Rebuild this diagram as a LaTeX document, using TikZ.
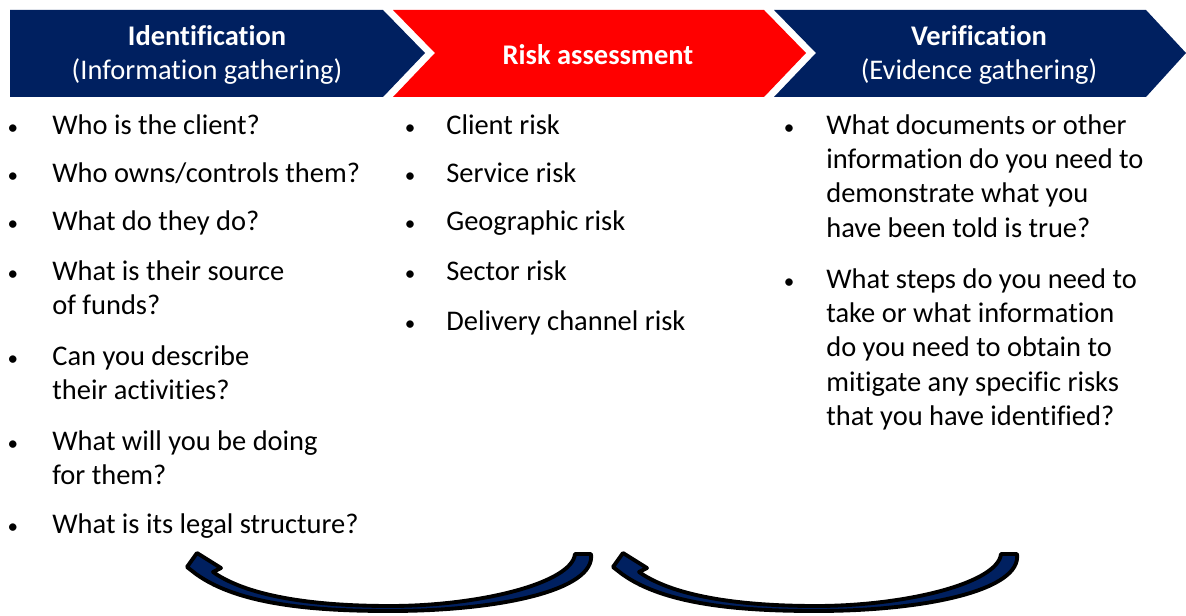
\documentclass[tikz,border=0pt]{standalone}
\usepackage{fontspec}
\setmainfont{Carlito}[Ligatures=NoCommon]
\usetikzlibrary{positioning}
\definecolor{navy}{HTML}{002060}
\definecolor{riskred}{HTML}{FF0000}

\begin{document}
\begin{tikzpicture}[x=0.02cm,y=-0.02cm]
\tikzset{txt/.style={font=\fontsize{16.2}{19.6}\selectfont},
  head/.style={txt,text=white,align=center,inner sep=0pt},
  item/.style={txt,anchor=base west,inner sep=0pt},
  dot/.style={font=\fontsize{12}{14}\selectfont,anchor=base,inner sep=0pt},
  turn/.style={fill=navy,draw=black,line width=2.2pt,line join=round}}
\newcommand{\lines}[1]{\begin{tabular}[t]{@{}l@{}}#1\end{tabular}}
\useasboundingbox (0,0) rectangle (1186,615);

\fill[navy] (10,10) -- (383,10) -- (425,53) -- (383,97) -- (10,97) -- cycle;
\fill[riskred] (393,10) -- (764,10) -- (806,53) -- (764,97) -- (393,97) -- (435,53) -- cycle;
\fill[navy] (774,10) -- (1146,10) -- (1186,53) -- (1146,97) -- (774,97) -- (816,53) -- cycle;
\node[head] (ident) at (207,55) {\textbf{Identification}\\(Information gathering)};
\node[head] (risk) at (598,55) {\textbf{Risk assessment}};
\node[head] (verif) at (979,55) {\textbf{Verification}\\(Evidence gathering)};

\foreach \y/\t [count=\i] in {134/{Who is the client?},182/{Who owns/controls them?},230/{What do they do?},
  280/{What is their source\\of funds?},365/{Can you describe\\their activities?},
  450/{What will you be doing\\for them?},533/{What is its legal structure?}}{
  \node[dot] (ib\i) at (13,\y) {•};
  \node[item] (i\i) at (52,\y) {\lines{\t}};
}
\foreach \y/\t [count=\i] in {134/{Client risk},182/{Service risk},230/{Geographic risk},
  280/{Sector risk},330/{Delivery channel risk}}{
  \node[dot] (rb\i) at (410,\y) {•};
  \node[item] (r\i) at (446,\y) {\t};
}
\foreach \y/\t [count=\i] in {134/{What documents or other\\information do you need to\\demonstrate what you\\have been told is true?},
  288/{What steps do you need to\\take or what information\\do you need to obtain to\\mitigate any specific risks\\that you have identified?}}{
  \node[dot] (vb\i) at (789,\y) {•};
  \node[item] (v\i) at (826,\y) {\lines{\t}};
}

\foreach \s/\n in {0/back1,426/back2}{
  \draw[turn,shift={(\s,0)}] (197,553) -- (187,567) -- (196,574)
    .. controls (240,606) and (320,611) .. (390,611)
    .. controls (500,611) and (596,590) .. (591,554) -- (575,554)
    .. controls (572,583) and (480,606) .. (390,606)
    .. controls (320,606) and (250,598) .. (213,572) -- (221,568) -- cycle;
}
\end{tikzpicture}
\end{document}
